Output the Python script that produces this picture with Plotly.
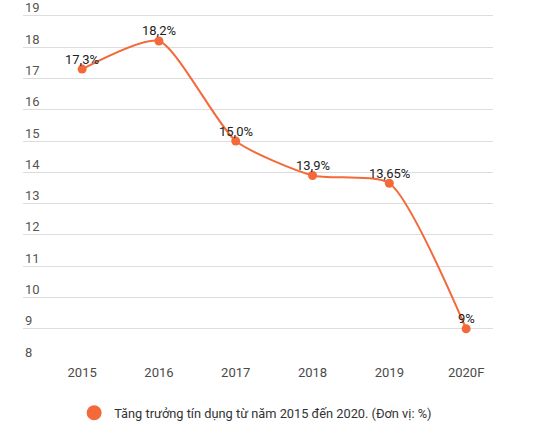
"""
Tăng trưởng tín dụng 2015-2020
"""
import plotly.graph_objects as go

years = ["2015", "2016", "2017", "2018", "2019", "2020F"]
growth = [17.3, 18.2, 15.0, 13.9, 13.65, 9.0]
labels = ["17,3%", "18,2%", "15,0%", "13,9%", "13,65%", "9%"]
y_ticks = [8, 9, 10, 11, 12, 13, 14, 15, 16, 17, 18, 19]
legend_name = "Tăng trưởng tín dụng từ năm 2015 đến 2020. (Đơn vị: %)"

ORANGE = "#f4693a"


def crear_grafico():
    fig = go.Figure()

    # curva principal
    fig.add_trace(go.Scatter(
        x=years, y=growth,
        mode="lines+markers",
        line=dict(color=ORANGE, width=2, shape="spline", smoothing=0.6),
        marker=dict(color=ORANGE, size=9),
        showlegend=False,
        cliponaxis=False,
    ))

    # etiquetas de valores (x por índice de categoría)
    for i, (y, t) in enumerate(zip(growth, labels)):
        fig.add_annotation(
            x=i, y=y, text=t,
            showarrow=False,
            yanchor="middle", yshift=10,
            font=dict(family="Roboto", size=13, color="#222"),
        )

    # etiquetas del eje Y encima de cada línea de rejilla, alineadas a la izquierda
    for v in y_ticks:
        fig.add_annotation(
            x=0, xref="paper", xanchor="left", xshift=0,
            y=v, yanchor="middle", yshift=8,
            text=str(v),
            showarrow=False,
            font=dict(family="Roboto", size=13, color="#555"),
        )

    # solo para la leyenda (círculo grande)
    fig.add_trace(go.Scatter(
        x=[None], y=[None],
        mode="markers",
        marker=dict(color=ORANGE, size=15),
        name=legend_name,
    ))

    fig.update_layout(
        width=534, height=433,
        margin=dict(l=23, r=41, t=0, b=73),
        paper_bgcolor="white",
        plot_bgcolor="white",
        font=dict(family="Roboto", size=12, color="#555"),
        legend=dict(
            orientation="h",
            x=0.495, xanchor="center",
            y=-0.147, yanchor="middle",
            font=dict(family="Roboto", size=12.8, color="#333"),
            itemsizing="trace",
        ),
    )
    fig.update_xaxes(
        type="category",
        range=[-0.77, 5.35],
        automargin=False,
        showgrid=False,
        zeroline=False,
        showline=False,
        tickfont=dict(family="Roboto", size=13, color="#4a4a4a"),
        ticklabelstandoff=3,
        ticks="",
    )
    fig.update_yaxes(
        range=[8, 19.51],
        automargin=False,
        tickvals=y_ticks,
        showticklabels=False,
        showgrid=True,
        gridcolor="#dddddd",
        gridwidth=1,
        zeroline=False,
        showline=False,
        ticks="",
    )
    return fig


def main():
    fig = crear_grafico()
    # quitar el margen de 8px del body para que la figura empiece en (0,0)
    fig.write_html(
        "out.html",
        config={"displayModeBar": False},
        post_script="document.body.style.margin='0';",
    )


if __name__ == "__main__":
    main()
